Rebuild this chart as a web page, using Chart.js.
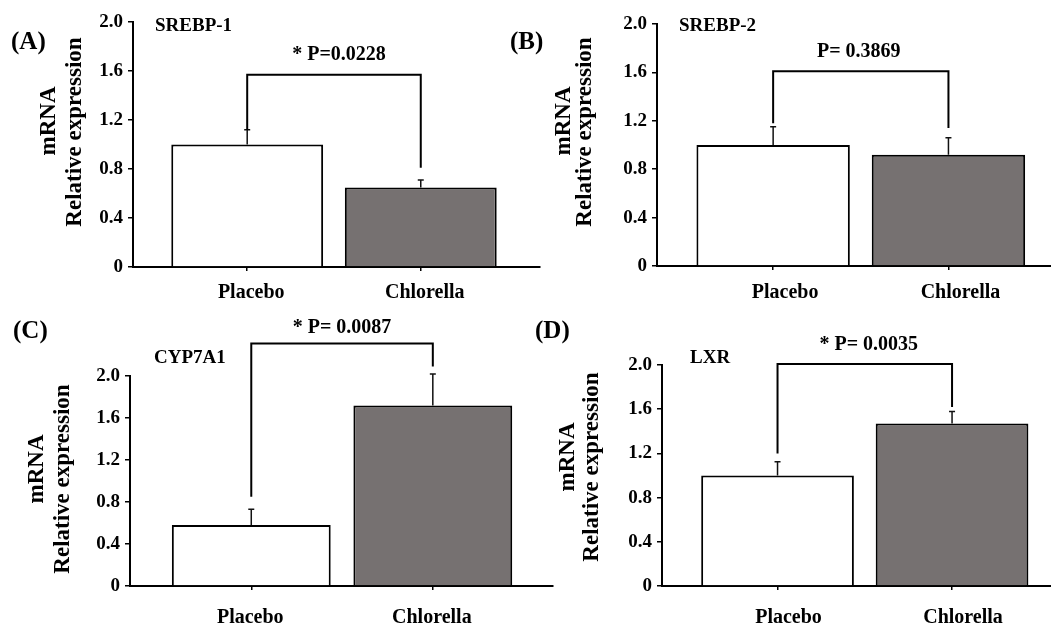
<!DOCTYPE html>
<html><head><meta charset="utf-8">
<script src="https://cdn.jsdelivr.net/npm/chart.js@4/dist/chart.umd.min.js"></script>
<style>
html,body{margin:0;padding:0;background:#fff;width:1051px;height:628px;overflow:hidden}
canvas{position:absolute;left:0;top:0}
</style></head><body>
<canvas id="cA" width="1051" height="628"></canvas>
<canvas id="cB" width="1051" height="628"></canvas>
<canvas id="cC" width="1051" height="628"></canvas>
<canvas id="cD" width="1051" height="628"></canvas>
<script>
// ---- data ----
const categories = ['Placebo', 'Chlorella'];
const yTickLabels = ['0', '0.4', '0.8', '1.2', '1.6', '2.0'];
const yTitleLines = ['mRNA', 'Relative expression'];
const panelLabels = ['(A)', '(B)', '(C)', '(D)'];
const geneNames = ['SREBP-1', 'SREBP-2', 'CYP7A1', 'LXR'];
const pValueTexts = ['* P=0.0228', 'P= 0.3869', '* P= 0.0087', '* P= 0.0035'];

const meansA = [1.00, 0.65];
const errsA  = [0.12, 0.06];
const meansB = [1.00, 0.92];
const errsB  = [0.15, 0.14];
const meansC = [0.58, 1.72];
const errsC  = [0.15, 0.30];
const meansD = [1.00, 1.47];
const errsD  = [0.125, 0.11];

// bracket: [height, left end, right end] in data units
const bracketA = [1.57, 1.12, 0.81];
const bracketB = [1.61, 1.18, 1.14];
const bracketC = [2.31, 0.85, 2.09];
const bracketD = [2.01, 1.20, 1.62];

// ---- styling / layout ----
const FONT = "'Liberation Serif', 'Times New Roman', serif";
const barColors = ['#ffffff', '#767171'];
const Y_W = 60, X_H = 40, W = 1051, H = 628;

const panels = [
  { id: 'cA', means: meansA, errs: errsA, bracket: bracketA, idx: 0,
    area: { l: 133, r: 540, t: 22, b: 267 }, xMin: 0.342, xMax: 2.687, labelOffset: 4, xPad: 10,
    panelPos: [11, 43], genePos: [155, 26], mPos: [49, 121], rPos: [75, 132], pDy: -20, pDx: 5 },
  { id: 'cB', means: meansB, errs: errsB, bracket: bracketB, idx: 1,
    area: { l: 657, r: 1051, t: 24, b: 266 }, xMin: 0.3375, xMax: 2.585, labelOffset: 12, xPad: 11,
    panelPos: [510, 43], genePos: [679, 26], mPos: [564, 121], rPos: [585, 132], pDy: -19, pDx: -2 },
  { id: 'cC', means: meansC, errs: errsC, bracket: bracketC, idx: 2,
    area: { l: 130, r: 553, t: 376, b: 586 }, xMin: 0.332, xMax: 2.662, labelOffset: -1, xPad: 16,
    panelPos: [13, 332], genePos: [154, 358], mPos: [37, 469], rPos: [63, 479], pDy: -16, pDx: 0 },
  { id: 'cD', means: meansD, errs: errsD, bracket: bracketD, idx: 3,
    area: { l: 662, r: 1051, t: 365, b: 586 }, xMin: 0.338, xMax: 2.567, labelOffset: 11, xPad: 16,
    panelPos: [535, 332], genePos: [690, 358], mPos: [568, 457], rPos: [592, 467], pDy: -19, pDx: 4 }
];

function makeAnnot(p) {
  return {
    id: 'annot' + p.idx,
    afterDatasetsDraw(chart) {
      const ctx = chart.ctx, xs = chart.scales.x, ys = chart.scales.y;
      ctx.save();
      // error bars (upper only)
      ctx.strokeStyle = '#111';
      ctx.lineWidth = 1.5;
      p.means.forEach((m, i) => {
        const x = xs.getPixelForValue(i + 1);
        const y0 = ys.getPixelForValue(m);
        const y1 = ys.getPixelForValue(m + p.errs[i]);
        ctx.beginPath();
        ctx.moveTo(x, y0); ctx.lineTo(x, y1);
        ctx.moveTo(x - 3, y1); ctx.lineTo(x + 3, y1);
        ctx.stroke();
      });
      // significance bracket
      const xl = xs.getPixelForValue(1), xr = xs.getPixelForValue(2);
      const yb = ys.getPixelForValue(p.bracket[0]);
      ctx.strokeStyle = '#000';
      ctx.lineWidth = 2;
      ctx.beginPath();
      ctx.moveTo(xl, ys.getPixelForValue(p.bracket[1]));
      ctx.lineTo(xl, yb);
      ctx.lineTo(xr, yb);
      ctx.lineTo(xr, ys.getPixelForValue(p.bracket[2]));
      ctx.stroke();
      // texts
      ctx.fillStyle = '#000';
      ctx.textBaseline = 'middle';
      ctx.textAlign = 'center';
      ctx.font = 'bold 20px ' + FONT;
      ctx.fillText(pValueTexts[p.idx], (xl + xr) / 2 + p.pDx, yb + p.pDy);
      ctx.textAlign = 'left';
      ctx.font = 'bold 25px ' + FONT;
      ctx.fillText(panelLabels[p.idx], p.panelPos[0], p.panelPos[1]);
      ctx.font = 'bold 19px ' + FONT;
      ctx.fillText(geneNames[p.idx], p.genePos[0], p.genePos[1]);
      // y-axis title (two lines, rotated)
      ctx.font = 'bold 23px ' + FONT;
      ctx.textAlign = 'center';
      [[yTitleLines[0], p.mPos], [yTitleLines[1], p.rPos]].forEach(([t, pos]) => {
        ctx.save();
        ctx.translate(pos[0], pos[1]);
        ctx.rotate(-Math.PI / 2);
        ctx.fillText(t, 0, 0);
        ctx.restore();
      });
      ctx.restore();
    }
  };
}

const yTickValues = yTickLabels.map(Number);

panels.forEach(p => {
  new Chart(document.getElementById(p.id), {
    type: 'bar',
    data: {
      datasets: [{
        data: p.means.map((v, i) => ({ x: i + 1, y: v })),
        backgroundColor: barColors,
        borderColor: '#000',
        borderWidth: 2,
        borderSkipped: 'bottom',
        categoryPercentage: 1,
        barPercentage: 0.875
      }]
    },
    options: {
      responsive: false,
      animation: false,
      events: [],
      layout: {
        padding: {
          left: p.area.l - Y_W,
          right: W - p.area.r,
          top: p.area.t,
          bottom: H - p.area.b - X_H
        }
      },
      plugins: { legend: { display: false }, tooltip: { enabled: false } },
      scales: {
        x: {
          type: 'linear',
          offset: false,
          min: p.xMin,
          max: p.xMax,
          afterBuildTicks: s => { s.ticks = categories.map((c, i) => ({ value: i + 1 })); },
          afterFit: s => { s.height = X_H; },
          ticks: {
            autoSkip: false,
            maxRotation: 0,
            padding: p.xPad,
            labelOffset: p.labelOffset,
            color: '#000',
            font: { family: FONT, size: 20, weight: 'bold' },
            callback: v => categories[Math.round(v) - 1]
          },
          grid: { offset: false, drawOnChartArea: false, drawTicks: true, tickLength: 4, color: '#000', lineWidth: 1.5 },
          border: { display: true, color: '#000', width: 2 }
        },
        y: {
          min: 0,
          max: 2,
          afterBuildTicks: s => { s.ticks = yTickValues.map(v => ({ value: v })); },
          afterFit: s => { s.width = Y_W; },
          ticks: {
            padding: 5,
            color: '#000',
            font: { family: FONT, size: 19, weight: 'bold' },
            callback: (v, i) => yTickLabels[i]
          },
          grid: { drawOnChartArea: false, drawTicks: true, tickLength: 5, color: '#000', lineWidth: 1.5 },
          border: { display: true, color: '#000', width: 2 }
        }
      }
    },
    plugins: [makeAnnot(p)]
  });
});
</script>
</body></html>
